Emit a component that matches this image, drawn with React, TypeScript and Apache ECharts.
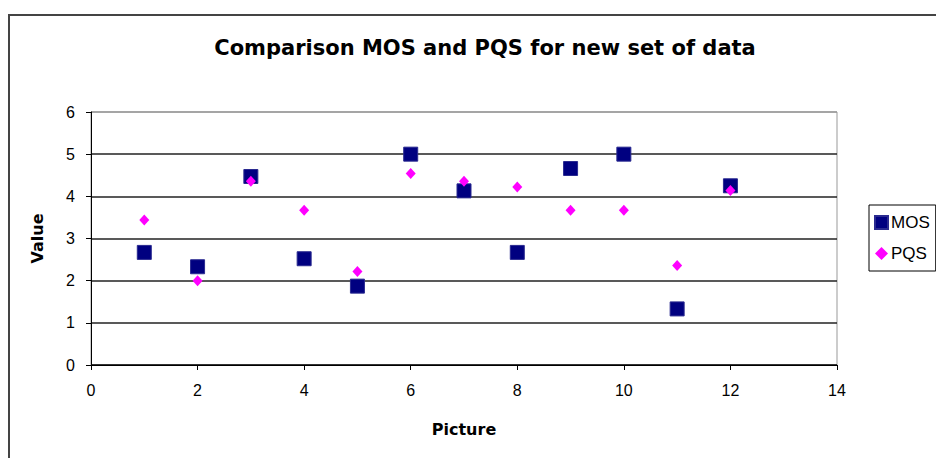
import React, { useEffect, useRef } from "react";
import * as echarts from "echarts";

const pictures = [1, 2, 3, 4, 5, 6, 7, 8, 9, 10, 11, 12];
const mosValues = [2.67, 2.33, 4.47, 2.52, 1.87, 5.0, 4.13, 2.67, 4.66, 5.0, 1.33, 4.25];
const pqsValues = [3.44, 2.0, 4.36, 3.67, 2.22, 4.54, 4.36, 4.22, 3.67, 3.67, 2.36, 4.14];
const titleText = "Comparison MOS and PQS for new set of data";
const xAxisName = "Picture";
const yAxisName = "Value";

const FONT = "Liberation Sans";
const BOLD_FONT = "DejaVu Sans";

export default function App() {
  const ref = useRef<HTMLDivElement>(null);
  useEffect(() => {
    if (!ref.current) return;
    const chart = echarts.init(ref.current, undefined, { renderer: "svg" });
    const mosData = pictures.map((p, i) => [p, mosValues[i]]);
    const pqsData = pictures.map((p, i) => [p, pqsValues[i]]);
    chart.setOption({
      animation: false,
      backgroundColor: "#ffffff",
      title: {
        text: titleText,
        left: 480,
        top: 32,
        textAlign: "center",
        textStyle: { fontFamily: BOLD_FONT, fontSize: 21, fontWeight: "bold", color: "#000" },
      },
      legend: {
        orient: "vertical",
        left: 869,
        top: 205,
        padding: [9, 6, 9, 5],
        itemGap: 14,
        itemWidth: 13,
        itemHeight: 13,
        borderColor: "#000",
        borderWidth: 1,
        textStyle: { fontFamily: FONT, fontSize: 17, color: "#000", padding: [0, 0, 0, -2] },
        data: [
          { name: "MOS", icon: "rect" },
          { name: "PQS", icon: "diamond" },
        ],
      },
      graphic: [
        {
          type: "rect",
          shape: { x: 9, y: 15, width: 1000, height: 600 },
          style: { fill: "none", stroke: "#444", lineWidth: 2 },
          silent: true,
        },
      ],
      grid: {
        left: 91,
        right: 99,
        top: 112,
        bottom: 93,
        show: true,
        borderColor: "#999",
        borderWidth: 1,
        backgroundColor: "transparent",
      },
      xAxis: {
        type: "value",
        min: 0,
        max: 14,
        interval: 2,
        name: xAxisName,
        nameLocation: "middle",
        nameGap: 56,
        nameTextStyle: { fontFamily: BOLD_FONT, fontSize: 16, fontWeight: "bold", color: "#000" },
        axisLine: { show: true, onZero: false, lineStyle: { color: "#000", width: 1 } },
        axisTick: { show: true, inside: false, length: 5, lineStyle: { color: "#000" } },
        axisLabel: { fontFamily: FONT, fontSize: 16, color: "#000", margin: 17 },
        splitLine: { show: false },
      },
      yAxis: {
        type: "value",
        min: 0,
        max: 6,
        interval: 1,
        name: yAxisName,
        nameLocation: "middle",
        nameRotate: 90,
        nameGap: 46,
        nameTextStyle: { fontFamily: BOLD_FONT, fontSize: 16, fontWeight: "bold", color: "#000" },
        axisLine: { show: true, lineStyle: { color: "#000", width: 1 } },
        axisTick: { show: true, inside: false, length: 5, lineStyle: { color: "#000" } },
        axisLabel: { fontFamily: FONT, fontSize: 16, color: "#000", margin: 16 },
        splitLine: {
          show: true,
          lineStyle: { color: ["#000", "#222", "#222", "#222", "#222", "#222", "#999"], width: 1.5 },
        },
      },
      series: [
        {
          name: "MOS",
          type: "scatter",
          data: mosData,
          symbol: "rect",
          symbolSize: 14,
          itemStyle: { color: "#000080", borderColor: "#2a2a90", borderWidth: 1, opacity: 1 },
          z: 2,
        },
        {
          name: "PQS",
          type: "scatter",
          data: pqsData,
          symbol: "diamond",
          symbolSize: [10, 11],
          itemStyle: { color: "#ff00ff", opacity: 1 },
          z: 3,
        },
      ],
    });
    return () => chart.dispose();
  }, []);
  return (
    <div
      ref={ref}
      style={{ position: "fixed", left: 0, top: 0, width: 936, height: 458 }}
    />
  );
}
